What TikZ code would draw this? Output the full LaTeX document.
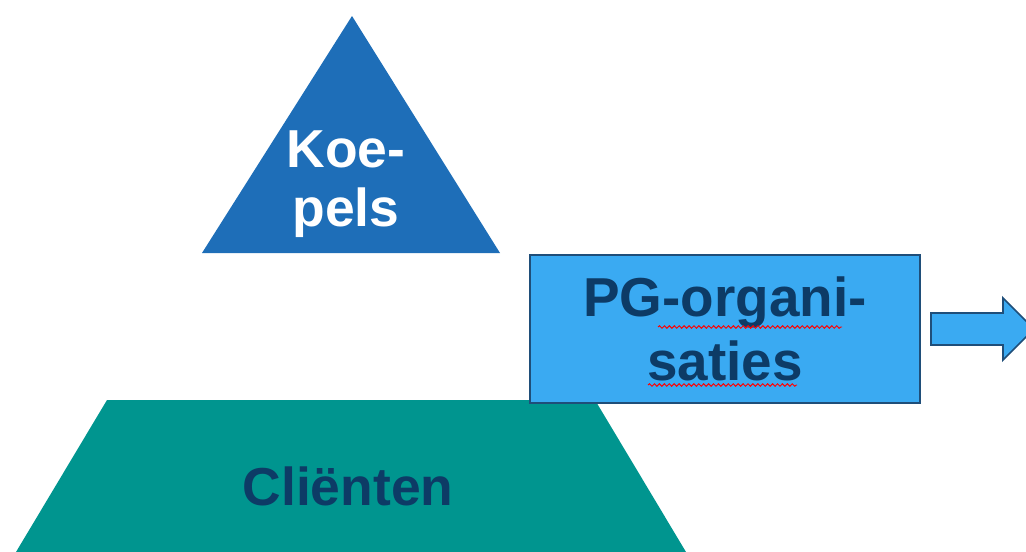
\documentclass[tikz,border=0pt]{standalone}
\usepackage{fontspec}
\setmainfont{Liberation Sans}
\usepackage{tikz}
\usetikzlibrary{decorations.pathmorphing}

\definecolor{koepelblue}{HTML}{1E6EB8}
\definecolor{pgblue}{HTML}{3AAAF2}
\definecolor{pgborder}{HTML}{1F4E79}
\definecolor{clientteal}{HTML}{00958F}
\definecolor{labelnavy}{HTML}{0D3B66}

\tikzset{
    bigtext/.style={font=\fontsize{38}{42}\selectfont\bfseries, align=center, inner sep=0pt},
    spellmark/.style={red, line width=0.7pt, decorate, decoration={snake, amplitude=0.9pt, segment length=3.5pt}}
}

\begin{document}
\begin{tikzpicture}[x=0.025cm, y=-0.025cm]
        \useasboundingbox (0,0) rectangle (1026,552);
        % Koepels
        \fill[koepelblue] (352,16) -- (500,253) -- (202,253) -- cycle;
        \node[bigtext, white] (koepels) at (346,184) {Koe-\\pels};
        % Clienten
        \fill[clientteal] (107,400) -- (595,400) -- (686,552) -- (16,552) -- cycle;
        \node[bigtext, labelnavy] (clienten) at (348,486) {Cli\"enten};
        % PG-organisaties
        \node[bigtext, font=\fontsize{39}{45}\selectfont\bfseries, labelnavy, draw=pgborder, fill=pgblue, line width=1.2pt,
              minimum width=9.75cm, minimum height=3.7cm, anchor=north west] (pg) at (529,254) {PG-organi-\\saties};
        \draw[spellmark] (658,327) -- (842,327);
        \draw[spellmark] (648,385) -- (797,385);
        % arrow
        \draw[pgborder, fill=pgblue, line width=1.2pt] (931,313) -- (1003,313) -- (1003,298) -- (1034,329) -- (1003,360) -- (1003,345) -- (931,345) -- cycle;
    \end{tikzpicture}
\end{document}
